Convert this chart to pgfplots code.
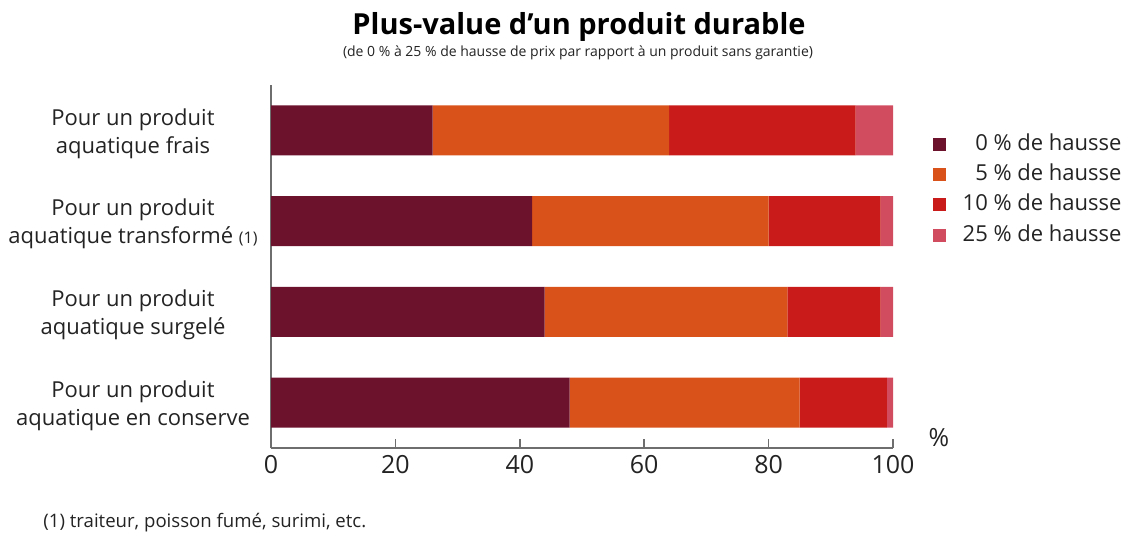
\documentclass[border=0pt]{standalone}
\usepackage{fontspec}
\setmainfont{Open Sans}
\usepackage{pgfplots}
\pgfplotsset{compat=1.18}
\definecolor{c0}{RGB}{108,18,44}
\definecolor{c1}{RGB}{217,82,25}
\definecolor{c2}{RGB}{200,27,26}
\definecolor{c3}{RGB}{210,76,95}
\definecolor{axc}{RGB}{110,110,110}
\definecolor{txt}{RGB}{35,35,35}
\begin{document}
\begin{tikzpicture}
\useasboundingbox (0,0) rectangle (565pt,268.5pt);
\begin{axis}[
  at={(135.5pt,44.5pt)}, anchor=south west,
  width=311pt, height=181.5pt, scale only axis,
  xbar stacked, bar width=25pt,
  xmin=0, xmax=100, ymin=-0.5, ymax=3.5, y dir=reverse,
  axis x line*=bottom, axis y line*=left,
  x axis line style={-}, y axis line style={-},
  axis line style={draw=axc, line width=0.8pt},
  xtick={0,20,40,60,80,100}, ytick={0,1,2,3},
  yticklabels={{Pour un produit\\aquatique frais},
               {Pour un produit\\aquatique transformé {\fontsize{8}{10}\selectfont(1)}},
               {Pour un produit\\aquatique surgelé},
               {Pour un produit\\aquatique en conserve}},
  tick align=inside, major tick length=4.5pt,
  xtick style={draw=axc, line width=0.8pt},
  ytick style={draw=none},
  xticklabel style={font=\fontsize{12.5}{15}\selectfont, text=txt},
  yticklabel style={anchor=center, align=center, xshift=-69pt, yshift=-1.5pt, font=\fontsize{11}{14}\selectfont, text=txt},
  /pgf/number format/assume math mode=true,
  legend cell align=right,
  legend image code/.code={\fill[#1] (0pt,-3pt) rectangle (6.5pt,3.5pt);},
  legend style={at={(1.368,0.865)}, anchor=north east, draw=none, fill=none, inner sep=0pt,
    font=\fontsize{11}{13}\selectfont, text=txt, row sep=4.6pt,
    nodes={inner sep=0pt, text height=8pt, text depth=2.5pt},
    /tikz/every odd column/.append style={column sep=8.5pt}},
]
\addplot[fill=c0, draw=none] coordinates {(26,0) (42,1) (44,2) (48,3)};
\addplot[fill=c1, draw=none] coordinates {(38,0) (38,1) (39,2) (37,3)};
\addplot[fill=c2, draw=none] coordinates {(30,0) (18,1) (15,2) (14,3)};
\addplot[fill=c3, draw=none] coordinates {(6,0) (2,1) (2,2) (1,3)};
\legend{0 \% de hausse, 5 \% de hausse, 10 \% de hausse, 25 \% de hausse}
\end{axis}
\node[font=\bfseries\fontsize{14.5}{17}\selectfont] at (289.5pt,255pt) {Plus-value d’un produit durable};
\node[font=\fontsize{7}{8}\selectfont, text=txt] at (289pt,242pt) {(de 0 \% à 25 \% de hausse de prix par rapport à un produit sans garantie)};
\node[font=\fontsize{12.5}{15}\selectfont, text=txt] at (469.5pt,49.5pt) {\%};
\node[anchor=west, font=\fontsize{9.3}{11}\selectfont, text=txt, inner sep=0pt] at (21.5pt,7pt) {(1) traiteur, poisson fumé, surimi, etc.};
\end{tikzpicture}
\end{document}
